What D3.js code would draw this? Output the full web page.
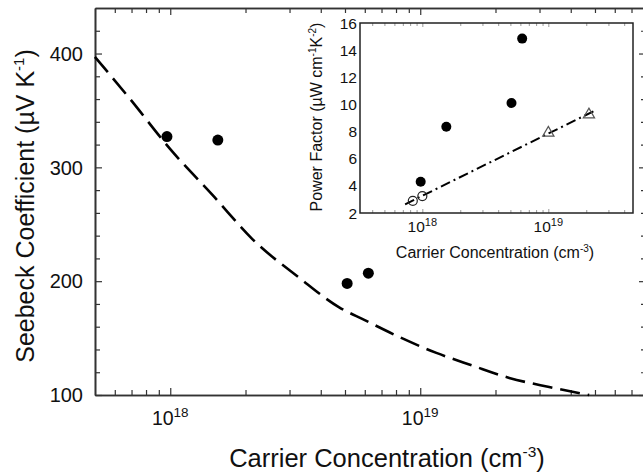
<!DOCTYPE html>
<html>
<head>
<meta charset="utf-8">
<script src="https://cdn.jsdelivr.net/npm/d3@7"></script>
<style>
  body { margin: 0; background: #fff; }
  svg { display: block; font-family: "Liberation Sans", Arial, sans-serif; }
</style>
</head>
<body>
<svg id="chart" width="643" height="474"></svg>
<script>
"use strict";

// measured samples (main panel: Seebeck, inset: power factor)
const sampleN = [9.7e17, 1.55e18, 5.1e18, 6.2e18];
const seebeck = [327, 324, 198, 207];
const powerFactor = [4.3, 8.35, 10.1, 14.85];

// model curve, main panel
const modelN = [5e17, 6.85e17, 1e18, 1.5e18, 2.13e18, 3.28e18, 4.74e18, 5.97e18, 8.24e18, 1.16e19, 1.61e19, 2.27e19, 3.28e19, 4.74e19];
const modelS = [397, 361, 316, 274, 237, 203, 177, 166, 151, 137, 126, 115, 107, 100];

// inset: literature points + fit line
const openN = [8.4e17, 1.0e18];
const openPF = [2.9, 3.25];
const triN = [1.0e19, 2.1e19];
const triPF = [7.9, 9.25];
const fitN = [7.3e17, 2.43e19];
const fitPF = [2.64, 9.62];

// ticks
const mainXTicks = [1e18, 1e19];
const mainXMinor = [6e17, 7e17, 8e17, 9e17, 2e18, 3e18, 4e18, 5e18, 6e18, 7e18, 8e18, 9e18, 2e19, 3e19, 4e19, 5e19, 6e19, 7e19];
const mainYTicks = [100, 200, 300, 400];
const mainYMinor = [120, 140, 160, 180, 220, 240, 260, 280, 320, 340, 360, 380, 420];
const insetXMinor = [4e17, 5e17, 6e17, 7e17, 8e17, 9e17, 2e18, 3e18, 4e18, 5e18, 6e18, 7e18, 8e18, 9e18, 2e19, 3e19, 4e19];
const insetYTicks = [2, 4, 6, 8, 10, 12, 14, 16];

const svg = d3.select("#chart");
const axisColor = "#333";

// ---------- main panel ----------
const x = d3.scaleLog().domain([5e17, 8e19]).range([95, 646]);
const y = d3.scaleLinear().domain([100, 440]).range([395, 8]);

function styleAxis(g, width) {
  g.selectAll("path.domain").attr("stroke", axisColor).attr("stroke-width", width);
  g.selectAll(".tick line").attr("stroke", axisColor).attr("stroke-width", 1.2);
}

// minor ticks first, then majors with the frame lines
[["axisBottom", 395, mainXMinor, 5], ["axisTop", 8, mainXMinor, 5],
 ["axisBottom", 395, mainXTicks, 7], ["axisTop", 8, mainXTicks, 7]].forEach(([fn, ty, vals, len]) => {
  svg.append("g")
    .attr("transform", `translate(0,${ty})`)
    .call(d3[fn](x).tickValues(vals).tickSize(-len).tickSizeOuter(0).tickFormat(""))
    .call(g => styleAxis(g, 1.6));
});

[["axisLeft", 95, mainYMinor, 5], ["axisRight", 646, mainYMinor, 5],
 ["axisLeft", 95, mainYTicks, 7], ["axisRight", 646, mainYTicks, 7]].forEach(([fn, tx, vals, len]) => {
  svg.append("g")
    .attr("transform", `translate(${tx},0)`)
    .call(d3[fn](y).tickValues(vals).tickSize(-len).tickSizeOuter(0).tickFormat(""))
    .call(g => styleAxis(g, 1.6));
});

// y tick labels
svg.append("g").selectAll("text")
  .data(mainYTicks)
  .join("text")
    .attr("x", 83)
    .attr("y", d => y(d))
    .attr("dy", "0.36em")
    .attr("text-anchor", "end")
    .attr("font-size", 20)
    .attr("fill", "#111")
    .text(d => d);

// power-of-ten label helper
function powLabel(sel, base, sup, supShift) {
  sel.each(function(d) {
    const t = d3.select(this);
    t.append("tspan").attr("font-size", base).text("10");
    t.append("tspan").attr("font-size", sup).attr("dy", -supShift).text(Math.round(Math.log10(d)));
  });
}

svg.append("g").selectAll("text")
  .data(mainXTicks)
  .join("text")
    .attr("x", d => x(d))
    .attr("y", 425)
    .attr("text-anchor", "middle")
    .attr("fill", "#111")
    .call(powLabel, 19.5, 13.5, 8);

// model curve
const modelLine = d3.line()
  .x(d => x(d[0]))
  .y(d => y(d[1]))
  .curve(d3.curveMonotoneX);

svg.append("path")
  .datum(d3.zip(modelN, modelS))
  .attr("fill", "none")
  .attr("stroke", "#000")
  .attr("stroke-width", 2.6)
  .attr("stroke-dasharray", "20,8")
  .attr("d", modelLine);

svg.append("g").selectAll("circle")
  .data(d3.zip(sampleN, seebeck))
  .join("circle")
    .attr("cx", d => x(d[0]))
    .attr("cy", d => y(d[1]))
    .attr("r", 5.5)
    .attr("fill", "#000");

// axis titles
svg.append("text")
  .attr("transform", "translate(34,206) rotate(-90)")
  .attr("text-anchor", "middle")
  .attr("font-size", 25)
  .attr("fill", "#111")
  .call(t => {
    t.append("tspan").text("Seebeck Coefficient (\u00b5V K");
    t.append("tspan").attr("font-size", 15).attr("dy", -10).text("-1");
    t.append("tspan").attr("dy", 10).text(")");
  });

svg.append("text")
  .attr("x", 387)
  .attr("y", 467)
  .attr("text-anchor", "middle")
  .attr("font-size", 25.5)
  .attr("fill", "#111")
  .call(t => {
    t.append("tspan").text("Carrier Concentration (cm");
    t.append("tspan").attr("font-size", 15.5).attr("dy", -10).text("-3");
    t.append("tspan").attr("dy", 10).text(")");
  });

// ---------- inset ----------
const ix = d3.scaleLog().domain([3.2e17, 4.7e19]).range([360, 633]);
const iy = d3.scaleLinear().domain([2, 16]).range([213, 23]);

const inset = svg.append("g");

inset.append("rect")
  .attr("x", ix.range()[0])
  .attr("y", iy.range()[1])
  .attr("width", ix.range()[1] - ix.range()[0])
  .attr("height", iy.range()[0] - iy.range()[1])
  .attr("fill", "#fff");

[["axisBottom", 213, insetXMinor, 3], ["axisTop", 23, insetXMinor, 3],
 ["axisBottom", 213, mainXTicks, 4], ["axisTop", 23, mainXTicks, 4]].forEach(([fn, ty, vals, len]) => {
  inset.append("g")
    .attr("transform", `translate(0,${ty})`)
    .call(d3[fn](ix).tickValues(vals).tickSize(-len).tickSizeOuter(0).tickFormat(""))
    .call(g => {
      g.select("path.domain").remove();
      g.selectAll(".tick line").attr("stroke", "#999").attr("stroke-width", 1);
    });
});

inset.append("rect")
  .attr("x", ix.range()[0])
  .attr("y", iy.range()[1])
  .attr("width", ix.range()[1] - ix.range()[0])
  .attr("height", iy.range()[0] - iy.range()[1])
  .attr("fill", "none")
  .attr("stroke", "#222")
  .attr("stroke-width", 1.5);

inset.append("g").selectAll("text")
  .data(insetYTicks)
  .join("text")
    .attr("x", 357)
    .attr("y", d => iy(d))
    .attr("dy", "0.36em")
    .attr("text-anchor", "end")
    .attr("font-size", 15.5)
    .attr("fill", "#111")
    .text(d => d);

inset.append("g").selectAll("text")
  .data(mainXTicks)
  .join("text")
    .attr("x", d => ix(d))
    .attr("y", 232)
    .attr("text-anchor", "middle")
    .attr("fill", "#111")
    .call(powLabel, 15.5, 11, 6);

inset.append("text")
  .attr("x", 495)
  .attr("y", 258)
  .attr("text-anchor", "middle")
  .attr("font-size", 16)
  .attr("fill", "#111")
  .call(t => {
    t.append("tspan").text("Carrier Concentration (cm");
    t.append("tspan").attr("font-size", 10).attr("dy", -6).text("-3");
    t.append("tspan").attr("dy", 6).text(")");
  });

inset.append("text")
  .attr("transform", "translate(322,117) rotate(-90)")
  .attr("text-anchor", "middle")
  .attr("font-size", 16)
  .attr("fill", "#111")
  .call(t => {
    t.append("tspan").text("Power Factor (\u00b5W cm");
    t.append("tspan").attr("font-size", 10).attr("dy", -6).text("-1");
    t.append("tspan").attr("dy", 6).text("K");
    t.append("tspan").attr("font-size", 10).attr("dy", -6).text("-2");
    t.append("tspan").attr("dy", 6).text(")");
  });

// fit line
const fitLine = d3.line()
  .x(d => ix(d[0]))
  .y(d => iy(d[1]));

inset.append("path")
  .datum(d3.zip(fitN, fitPF))
  .attr("fill", "none")
  .attr("stroke", "#000")
  .attr("stroke-width", 2)
  .attr("stroke-dasharray", "10,4,2,4")
  .attr("d", fitLine);

inset.append("g").selectAll("circle")
  .data(d3.zip(openN, openPF))
  .join("circle")
    .attr("cx", d => ix(d[0]))
    .attr("cy", d => iy(d[1]))
    .attr("r", 4.5)
    .attr("fill", "none")
    .attr("stroke", "#222")
    .attr("stroke-width", 1.2);

const tri = d3.symbol().type(d3.symbolTriangle).size(55);
inset.append("g").selectAll("path")
  .data(d3.zip(triN, triPF))
  .join("path")
    .attr("transform", d => `translate(${ix(d[0])},${iy(d[1])})`)
    .attr("d", tri)
    .attr("fill", "none")
    .attr("stroke", "#555")
    .attr("stroke-width", 1.2);

inset.append("g").selectAll("circle")
  .data(d3.zip(sampleN, powerFactor))
  .join("circle")
    .attr("cx", d => ix(d[0]))
    .attr("cy", d => iy(d[1]))
    .attr("r", 5)
    .attr("fill", "#000");
</script>
</body>
</html>
